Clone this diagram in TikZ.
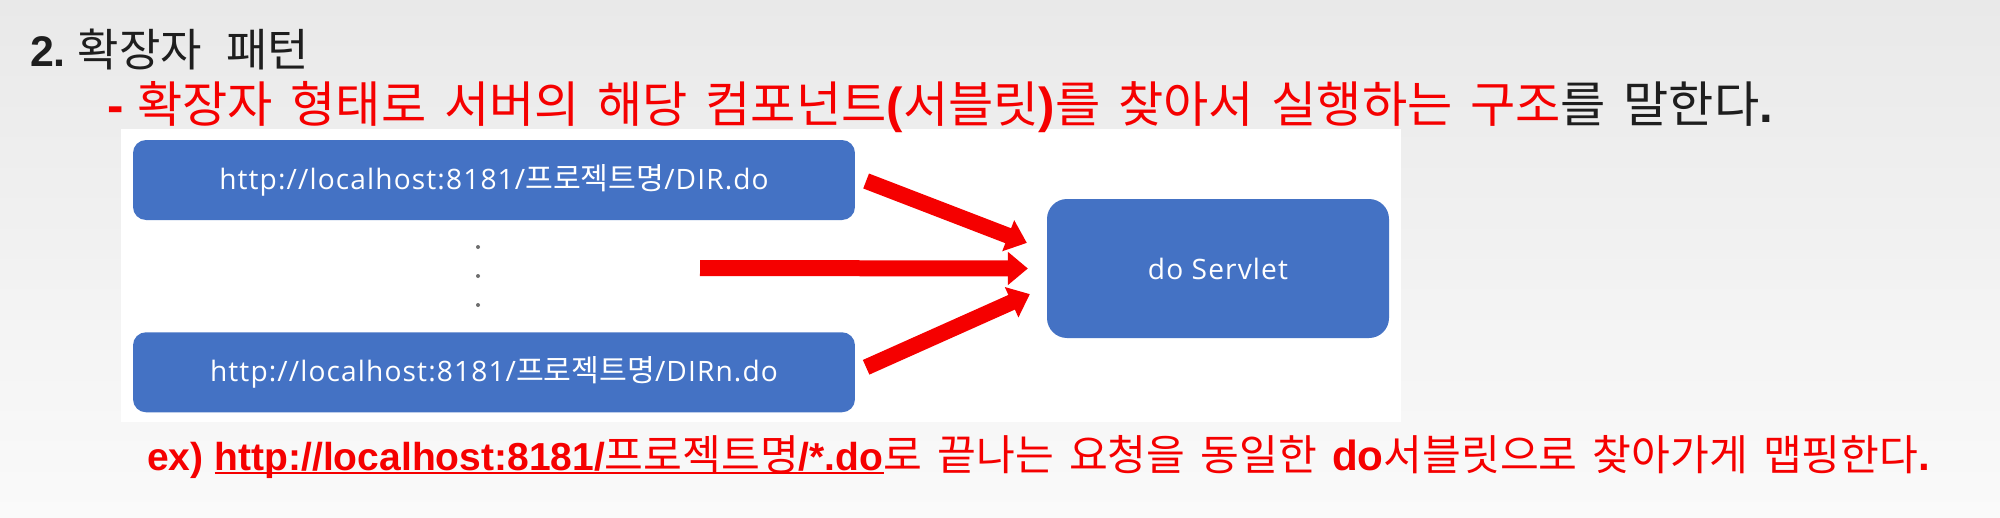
\documentclass[tikz,border=0pt]{standalone}
\usepackage{fontspec}
\setmainfont{Liberation Sans}
\newfontfamily\kofont{Noto Sans CJK KR}[WordSpace=1.6]
\newfontfamily\uifont{Open Sans}[LetterSpace=4]
\usetikzlibrary{arrows.meta,positioning}

\definecolor{boxblue}{RGB}{68,114,196}
\definecolor{slidered}{RGB}{245,0,0}
\definecolor{titlegray}{RGB}{30,30,30}
\definecolor{dotgray}{RGB}{110,110,110}
\definecolor{bgtop}{RGB}{233,233,233}
\definecolor{bgbot}{RGB}{250,250,250}

\newcommand\lb[1]{{\normalfont\bfseries #1}}
\newcommand\boxko[1]{{\kofont\fontsize{43}{46}\selectfont #1}}

\begin{document}
\begin{tikzpicture}[x=0.05cm, y=-0.05cm,
  urlbox/.style={rectangle, rounded corners=0.65cm, fill=boxblue, text=white,
    minimum width=36.1cm, minimum height=4cm, inner sep=0,
    font=\fontsize{40}{46}\selectfont\uifont},
  servletbox/.style={urlbox, rounded corners=1cm, minimum width=17.1cm,
    minimum height=6.95cm, font=\fontsize{40}{44}\selectfont\uifont},
  bigarrow/.style={slidered, line width=0.8cm, -{Triangle[length=1cm,width=1.6cm]}},
  textline/.style={anchor=base west, inner sep=0},
  bottomtext/.style={textline, text=slidered, font=\fontsize{55.5}{60}\selectfont}]

  % Slide background
  \useasboundingbox (0,0) rectangle (2000,517);
  \shade[top color=bgtop, bottom color=bgbot] (0,0) rectangle (2000,517);
  \fill[white] (121,129) rectangle (1401,422);

  % Heading
  \node[textline, text=titlegray] (title) at (30,66)
    {\fontsize{61}{64}\selectfont\bfseries 2.\hspace{0.6cm}\mdseries\kofont\fontsize{64}{68}\selectfont 확장자\hspace{1.2cm}패턴};
  \node[textline, text=slidered] (subline) at (107,122)
    {\fontsize{70}{72}\selectfont\lb{-} \kofont 확장자 형태로 서버의 해당 컴포넌트\lb{(}서블릿\lb{)}를 찾아서 실행하는 구조\color{titlegray}를 말한다\lb{.}};

  % Request boxes
  \node[urlbox] (dirtop) at (494,180) {http://localhost:8181/\boxko{프로젝트명}/DIR.do};
  \node[urlbox, below=5.6cm of dirtop] (dirbot) {http://localhost:8181/\boxko{프로젝트명}/DIRn.do};
  \foreach \dy in {247,276,305}
    \fill[dotgray] (478,\dy) circle (0.1cm);

  % Servlet
  \node[servletbox] (servlet) at (1218,268.5) {do Servlet};

  % Arrows
  \coordinate (srcA) at ([xshift=0.55cm,yshift=-0.05cm]dirtop.east);
  \coordinate (srcB) at (700,268);
  \coordinate (srcC) at ([xshift=0.55cm,yshift=0.25cm]dirbot.east);
  \coordinate (tipA) at ([xshift=-1cm,yshift=1.28cm]servlet.west);
  \coordinate (tipB) at ([xshift=-0.95cm]servlet.west);
  \coordinate (tipC) at ([xshift=-0.85cm,yshift=-1.28cm]servlet.west);
  \draw[bigarrow] (srcA) -- (tipA);
  \draw[bigarrow] (srcB) -- (tipB);
  \draw[bigarrow] (srcC) -- (tipC);

  % Example line
  \node[bottomtext] (exlbl) at (147,470) {\lb{ex)}};
  \node[bottomtext] (urlex) at ([xshift=0.55cm]exlbl.base east)
    {\lb{http://localhost:8181/}{\kofont\fontsize{60}{62}\selectfont 프로젝트명}\lb{/*.do}};
  \node[bottomtext] (tail) at (urlex.base east)
    {\kofont\fontsize{60}{62}\selectfont 로 끝나는 요청을 동일한 \lb{do}서블릿으로 찾아가게 맵핑한다\lb{.}};
  \draw[slidered, line width=0.1cm] ([yshift=-0.15cm]urlex.base west) -- ([yshift=-0.15cm]urlex.base east);
\end{tikzpicture}
\end{document}
